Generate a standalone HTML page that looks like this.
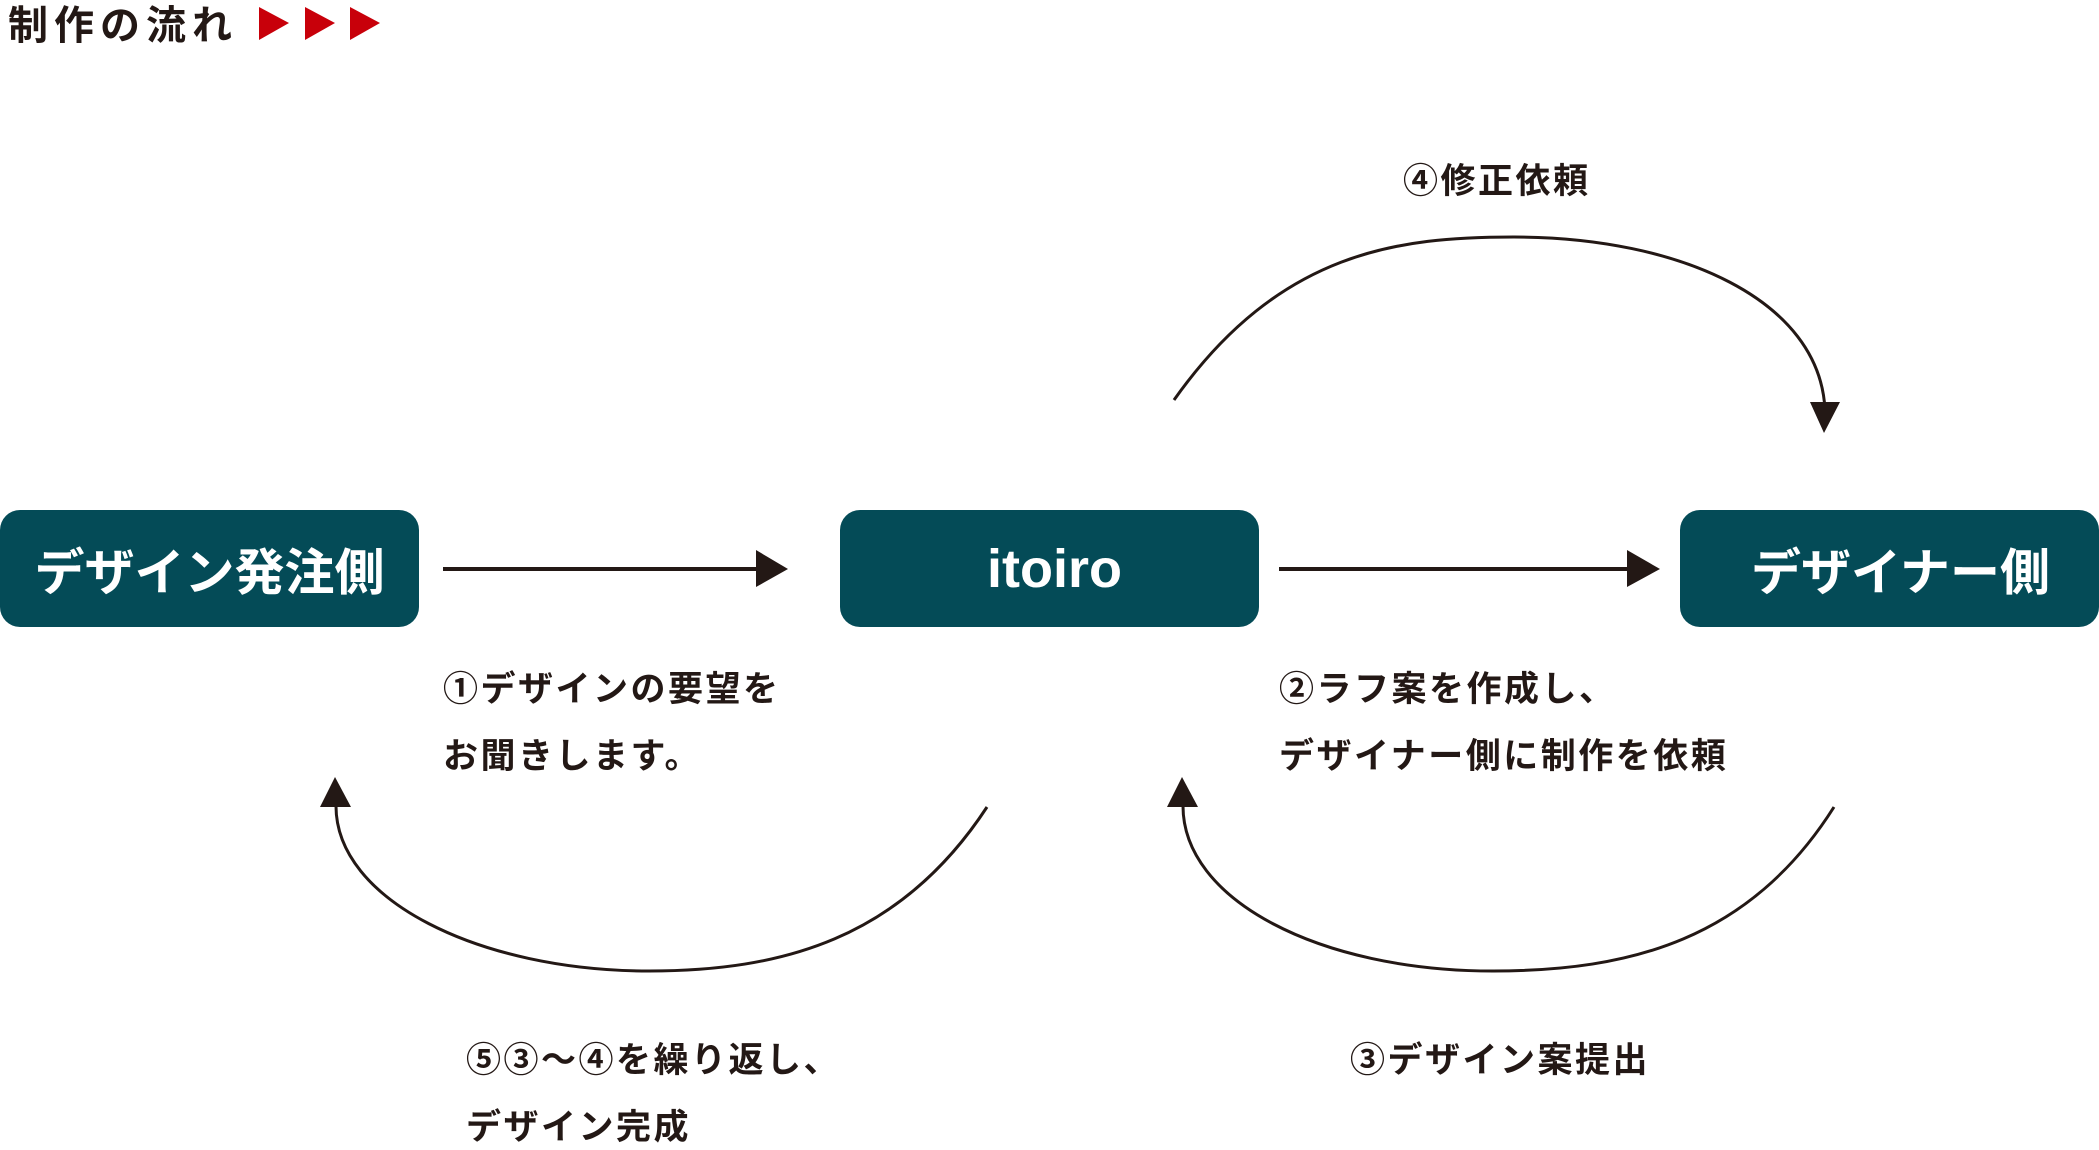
<!DOCTYPE html>
<html><head><meta charset="utf-8"><style>
body{margin:0;width:2099px;height:1150px;background:#fff;position:relative;overflow:hidden;font-family:"Liberation Sans","Noto Sans CJK JP",sans-serif;color:#231815}
.t{position:absolute;font-weight:bold;white-space:nowrap;line-height:1}
.box{position:absolute;top:510px;width:419px;height:117px;background:#044b57;border-radius:20px;color:#fff;font-weight:bold;font-size:50px;display:flex;align-items:center;justify-content:center;font-family:"Noto Sans CJK JP",sans-serif}
.lab{position:absolute;font-weight:bold;font-size:35px;white-space:nowrap;line-height:1;font-family:"Noto Sans CJK JP",sans-serif;letter-spacing:2.5px}
</style></head><body>
<div class="t" style="left:8px;top:2px;font-size:40px;letter-spacing:6px;font-family:'Noto Sans CJK JP',sans-serif">制作の流れ</div>
<svg width="2099" height="1150" style="position:absolute;left:0;top:0">
<polygon points="259,7 289,23 259,40" fill="#c8000a"/>
<polygon points="305,7 335,23 305,40" fill="#c8000a"/>
<polygon points="350,7 380,23 350,40" fill="#c8000a"/>
<g stroke="#231815" fill="none" stroke-width="3">
<line x1="443" y1="569" x2="760" y2="569" stroke-width="4"/>
<line x1="1279" y1="569" x2="1630" y2="569" stroke-width="4"/>
<path d="M1174,400 C1280,250 1400,237 1514,237 C1680,237 1820,300 1825,410"/>
<path d="M987,807 C900,940 780,971 649,971 C480,971 335,900 336,805"/>
<path d="M1834,807 C1750,940 1630,971 1493,971 C1320,971 1182,900 1183,805"/>
</g>
<g fill="#231815">
<polygon points="756,550 788,569 756,587"/>
<polygon points="1627,550 1660,569 1627,587"/>
<polygon points="1810,402 1840,402 1824,433"/>
<polygon points="320,807 351,807 335,777"/>
<polygon points="1167,807 1198,807 1182,777"/>
</g>
</svg>
<div class="box" style="left:0">デザイン発注側</div>
<div class="box" style="left:840px;font-family:'Liberation Sans',sans-serif;font-size:54px;padding:0 0 0 10px;box-sizing:border-box">itoiro</div>
<div class="box" style="left:1680px;padding-left:22px;box-sizing:border-box">デザイナー側</div>
<div class="lab" style="left:1403px;top:161px">④修正依頼</div>
<div class="lab" style="left:443px;top:669px">①デザインの要望を</div>
<div class="lab" style="left:443px;top:736px">お聞きします。</div>
<div class="lab" style="left:1279px;top:669px">②ラフ案を作成し、</div>
<div class="lab" style="left:1279px;top:736px">デザイナー側に制作を依頼</div>
<div class="lab" style="left:466px;top:1040px">⑤③～④を繰り返し、</div>
<div class="lab" style="left:466px;top:1107px">デザイン完成</div>
<div class="lab" style="left:1350px;top:1040px">③デザイン案提出</div>
</body></html>
